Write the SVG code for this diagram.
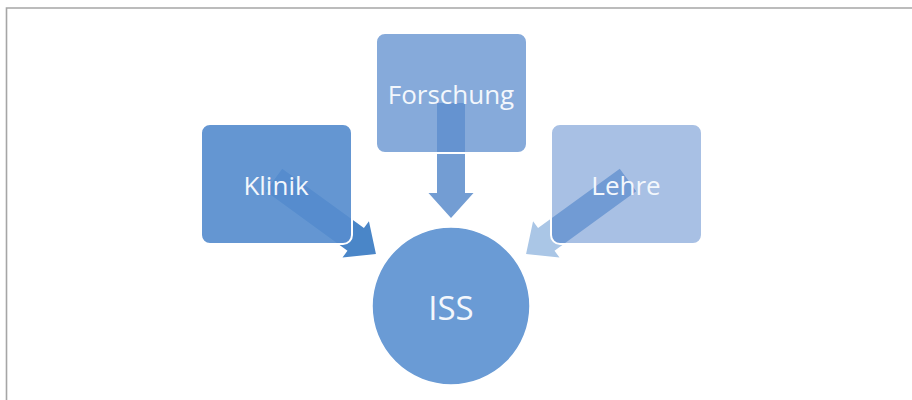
<svg xmlns="http://www.w3.org/2000/svg" width="912" height="400" viewBox="0 0 912 400">
<style>
.box{stroke:#ffffff;stroke-width:2}
.lbl{font-family:"Open Sans","Liberation Sans",sans-serif;fill:#f3f7fc;text-anchor:middle}
</style>
<defs>
<polygon id="arrowLong" points="0,-14 101,-14 101,-22.5 126,0 101,22.5 101,14 0,14"/>
<polygon id="arrowDown" points="0,-14 90,-14 90,-22.5 115,0 90,22.5 90,14 0,14"/>
</defs>
<rect width="912" height="400" fill="#ffffff"/>
<path d="M6.5,400 V8 H912" fill="none" stroke="#a6a6a6" stroke-width="1.6"/>
<g id="connectors">
<use href="#arrowLong" transform="translate(274,180) rotate(36)" fill="#4a86c8"/>
<use href="#arrowDown" transform="translate(451,103) rotate(90)" fill="#739dd3"/>
<use href="#arrowLong" transform="translate(628,180) rotate(144)" fill="#aac6e6"/>
</g>
<g id="klinik">
<rect class="box" x="201" y="124" width="151" height="120" rx="9" fill="#578dce" fill-opacity="0.92"/>
<text class="lbl" x="276" y="195" font-size="26">Klinik</text>
</g>
<g id="forschung">
<rect class="box" x="376" y="33" width="151" height="120" rx="9" fill="#6191cf" fill-opacity="0.77"/>
<text class="lbl" x="451" y="104" font-size="26">Forschung</text>
</g>
<g id="lehre">
<rect class="box" x="551" y="124" width="151" height="120" rx="9" fill="#0d50b4" fill-opacity="0.36"/>
<text class="lbl" x="626" y="195" font-size="26">Lehre</text>
</g>
<g id="iss">
<circle cx="451" cy="306" r="79" fill="#6a9bd5" stroke="#ffffff" stroke-width="1.5"/>
<text class="lbl" x="451" y="320" font-size="33">ISS</text>
</g>
</svg>
